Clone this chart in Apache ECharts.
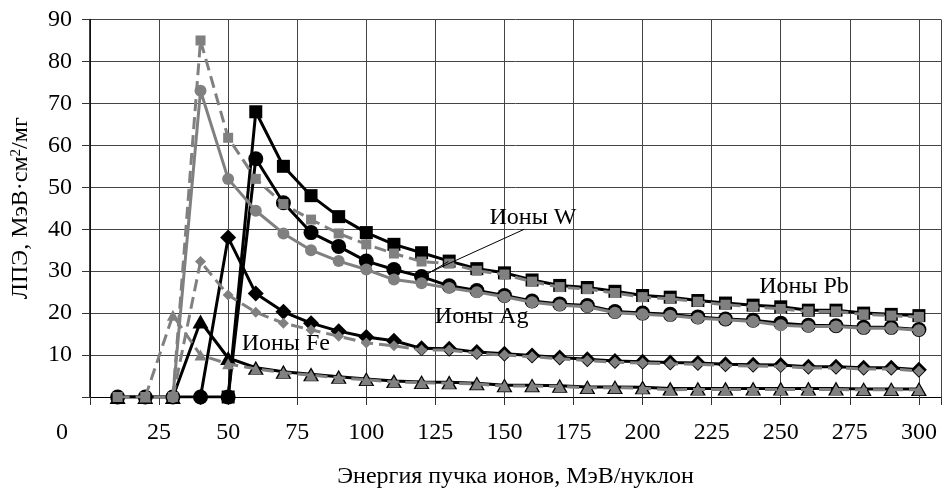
<!DOCTYPE html>
<html><head><meta charset="utf-8">
<script src="https://cdn.jsdelivr.net/npm/echarts@6/dist/echarts.min.js"></script>
<style>html,body{margin:0;padding:0;background:#fff}#c{width:944px;height:494px}</style>
</head><body><div id="c"></div>
<script>
// Energy of ion beam, MeV/nucleon
const energy = [10,20,30,40,50,60,70,80,90,100,110,120,130,140,150,160,170,180,190,200,210,220,230,240,250,260,270,280,290,300];
// Pb (squares)
const pbBlack = [null,null,null,null,0,68,55,48,43,39.2, 36.4,34.4,32.4,30.6,29.6,27.9,26.6,26.1,25.2,24.2, 23.8,23.0,22.4,21.9,21.5,20.7,20.7,20.0,19.7,19.4];
const pbGray  = [0,0,0,85,61.8,52,46,42.3,39,36.4, 34.2,32.3,31.8,30.1,29.2,27.5,26.2,25.7,24.8,23.8, 23.4,22.7,22.0,21.5,21.0,20.4,20.4,19.7,19.4,19.1];
// W (circles)
const wBlack = [0,0,0,0,0,56.8,46.3,39.2,35.9,32.4, 30.4,28.7,26.5,25.4,24.2,22.9,22.2,21.8,20.4,20.0, 19.7,19.1,18.6,18.3,17.6,17.1,17.0,16.6,16.6,16.1];
const wGray  = [null,null,0,73,52,44.4,39,35,32.4,30.4, 28,27.1,26.0,25.0,23.9,22.6,21.9,21.5,20.1,19.7, 19.4,18.8,18.4,18.0,17.1,16.8,16.8,16.4,16.4,15.9];
// Ag (diamonds)
const agBlack = [null,null,null,0,38,24.7,20.3,17.6,15.7,14.3, 13.4,11.6,11.5,10.7,10.3,9.9,9.4,9.0,8.6,8.4, 8.2,8.1,7.8,7.7,7.6,7.2,7.2,7.0,7.0,6.5];
const agGray  = [null,null,0,32.3,24.3,20.2,17.6,16,14.5,12.9, 12.2,11.2,11.2,10.4,10.0,9.6,9.1,8.7,8.3,8.1, 7.9,7.8,7.5,7.4,7.3,6.9,6.9,6.7,6.7,6.2];
// Fe (triangles)
const feBlack = [0,0,0,18,9.3,7.0,6.0,5.4,4.8,4.3, 3.8,3.6,3.5,3.3,2.8,2.8,2.7,2.4,2.4,2.3, 2.0,2.0,2.0,2.0,2.0,2.0,2.0,1.9,1.9,1.9];
const feGray  = [null,0,19.5,10,7.9,6.7,5.8,5.2,4.6,4.1, 3.6,3.4,3.3,3.1,2.6,2.6,2.5,2.2,2.2,2.1, 1.7,1.8,1.8,1.8,1.8,1.8,1.8,1.7,1.7,1.7];
// Annotation labels (data coordinates)
const noteTexts = ['Ионы W','Ионы Pb','Ионы Ag','Ионы Fe'];
const noteEnergy = [144.6, 242.2, 124.8, 54.9];
const noteLet = [42.8, 26.3, 19.2, 12.8];
// Leader lines: [from, to] in data coordinates
const leaders = [[[157.2, 40.0],[121.5, 29.3]], [[129.7, 32.3],[121.5, 29.1]]];

const FONT = '"Liberation Serif", "Times New Roman", serif';
const FS = 24;
const GRAY = '#808080';

function pairs(vals){ return energy.map((x,i)=> vals[i]==null ? null : [x, vals[i]]).filter(Boolean); }
function black(name, vals, symbol, size){
  return {name, type:'line', data:pairs(vals), symbol, symbolSize:size, showSymbol:true,
    lineStyle:{color:'#000', width:3}, itemStyle:{color:'#000'}, z:2, animation:false};
}
function gray(name, vals, symbol, size, dashed){
  return {name, type:'line', data:pairs(vals), symbol, symbolSize:size, showSymbol:true,
    lineStyle:{color:GRAY, width:3, type: dashed ? [12,6] : 'solid'}, itemStyle:{color:GRAY}, z:3, animation:false};
}

const chart = echarts.init(document.getElementById('c'), null, {renderer:'canvas'});
const option = {
  backgroundColor:'#fff',
  animation:false,
  grid:{left:90, top:19.5, right:-1, bottom:95, containLabel:false},
  xAxis:{type:'value', min:0, max:308, interval:25,
    axisLine:{show:true, onZero:true, lineStyle:{color:'#000', width:1}},
    axisTick:{show:true, inside:false, length:8, lineStyle:{color:'#333'}},
    splitLine:{show:true, lineStyle:{color:'#444', width:1}},
    axisLabel:{margin:24, color:'#000', fontFamily:FONT, fontSize:FS,
      formatter:v=> v % 25 !== 0 ? '' : (v===0 ? '{z|0}' : String(v)),
      rich:{z:{fontFamily:FONT, fontSize:FS, color:'#000', padding:[0,56,0,0]}}},
    name:'Энергия пучка ионов, МэВ/нуклон', nameLocation:'middle', nameGap:68,
    nameTextStyle:{color:'#000', fontFamily:FONT, fontSize:FS}
  },
  yAxis:{type:'value', min:0, max:90, interval:10,
    axisLine:{show:true, lineStyle:{color:'#000', width:1.5}},
    axisTick:{show:true, inside:false, length:8, lineStyle:{color:'#333'}},
    splitLine:{show:true, lineStyle:{color:'#444', width:1}},
    axisLabel:{margin:18, color:'#000', fontFamily:FONT, fontSize:FS, formatter:v=> v===0 ? '' : String(v)},
    name:'ЛПЭ, МэВ·см{sup|2}/мг', nameLocation:'middle', nameGap:57,
    nameTextStyle:{color:'#000', fontFamily:FONT, fontSize:FS,
      rich:{sup:{fontFamily:FONT, fontSize:15, color:'#000', verticalAlign:'top', lineHeight:15}}}
  },
  series:[
    black('Pb', pbBlack, 'rect', 13),
    black('Ag', agBlack, 'diamond', 16),
    black('Fe', feBlack, 'triangle', [16,14]),
    black('W', wBlack, 'circle', 15),
    gray('Fe*', feGray, 'triangle', [12,11], true),
    gray('Ag*', agGray, 'diamond', 11, true),
    gray('W*', wGray, 'circle', 12, false),
    gray('Pb*', pbGray, 'rect', 10, true)
  ]
};
chart.setOption(option);

const elements = noteTexts.map((t,i)=>{
  const p = chart.convertToPixel({gridIndex:0}, [noteEnergy[i], noteLet[i]]);
  return {type:'text', x:p[0], y:p[1], z:100,
    style:{text:t, fontFamily:FONT, fontSize:FS, fill:'#000', align:'left', verticalAlign:'middle'}};
});
leaders.forEach(l=>{
  const a = chart.convertToPixel({gridIndex:0}, l[0]);
  const b = chart.convertToPixel({gridIndex:0}, l[1]);
  elements.push({type:'line', z:100, shape:{x1:a[0], y1:a[1], x2:b[0], y2:b[1]}, style:{stroke:'#000', lineWidth:1}});
});
chart.setOption({graphic:{elements}});
</script>
</body></html>
